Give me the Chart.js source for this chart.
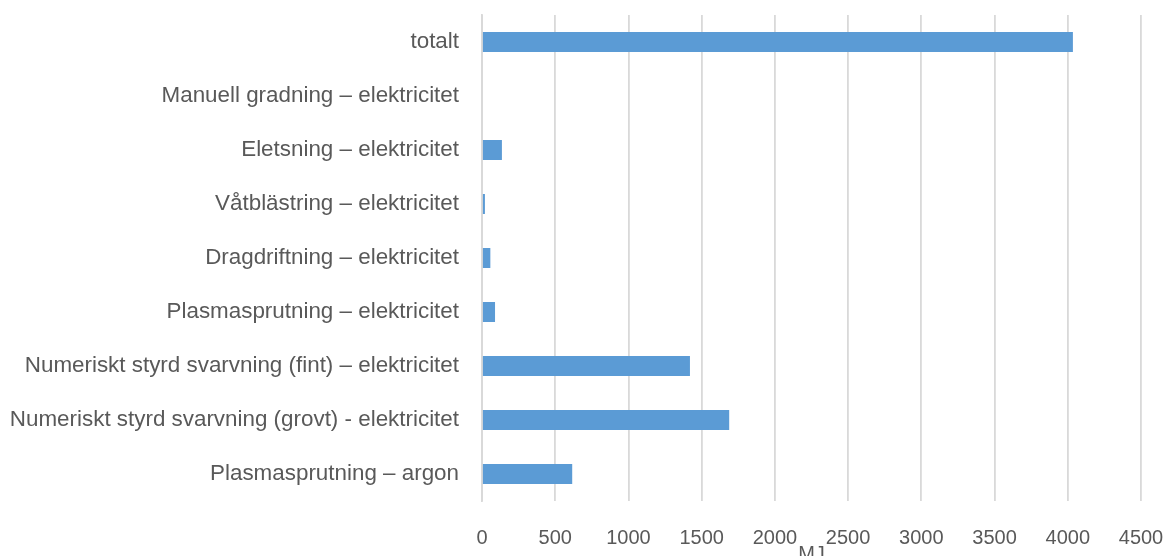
<!DOCTYPE html>
<html>
<head>
<meta charset="utf-8">
<script src="https://cdn.jsdelivr.net/npm/chart.js@4/dist/chart.umd.min.js"></script>
<style>
  html, body { margin: 0; padding: 0; background: #ffffff; }
  #wrap { width: 1168px; height: 556px; position: relative; }
</style>
</head>
<body>
<div id="wrap"><canvas id="chart"></canvas></div>
<script>
// Energy use per process step (MJ)
const categories = [
  "totalt",
  "Manuell gradning – elektricitet",
  "Eletsning – elektricitet",
  "Våtblästring – elektricitet",
  "Dragdriftning – elektricitet",
  "Plasmasprutning – elektricitet",
  "Numeriskt styrd svarvning (fint) – elektricitet",
  "Numeriskt styrd svarvning (grovt) - elektricitet",
  "Plasmasprutning – argon"
];
const energyMJ = [4035, 0, 136, 20, 57, 89, 1420, 1688, 616];
const xTicks = [0, 500, 1000, 1500, 2000, 2500, 3000, 3500, 4000, 4500];
const axisTitle = "MJ";

const FONT = "'Liberation Sans', Arial, sans-serif";
const TEXT = "#595959";
const GRID = "#d9d9d9";

new Chart(document.getElementById("chart"), {
  type: "bar",
  data: {
    labels: categories,
    datasets: [{
      data: energyMJ,
      backgroundColor: "#5b9bd5",
      borderWidth: 0,
      categoryPercentage: 1,
      barPercentage: 0.37
    }]
  },
  options: {
    indexAxis: "y",
    responsive: true,
    maintainAspectRatio: false,
    animation: false,
    layout: { padding: { top: 15, right: 27, left: 0, bottom: 0 } },
    plugins: { legend: { display: false }, tooltip: { enabled: false } },
    scales: {
      x: {
        min: 0,
        max: 4500,
        afterBuildTicks: s => { s.ticks = xTicks.map(v => ({ value: v })); },
        afterFit: s => { s.height = 55; s.paddingLeft = 0; s.paddingRight = 0; },
        grid: { color: GRID, lineWidth: 1.8, drawTicks: false },
        border: { display: false },
        ticks: {
          color: TEXT,
          font: { family: FONT, size: 20 },
          padding: 25,
          callback: v => String(v)
        },
        title: {
          display: true,
          text: axisTitle,
          color: TEXT,
          font: { family: FONT, size: 20 },
          padding: { top: 0, bottom: -10 }
        }
      },
      y: {
        afterFit: s => { s.width = 482; s.paddingTop = 0; s.paddingBottom = 0; },
        grid: { display: false, drawTicks: true, tickLength: 23 },
        border: { display: true, color: GRID, width: 1.8 },
        ticks: { color: TEXT, font: { family: FONT, size: 22.4 }, padding: 0 }
      }
    }
  }
});
</script>
</body>
</html>
